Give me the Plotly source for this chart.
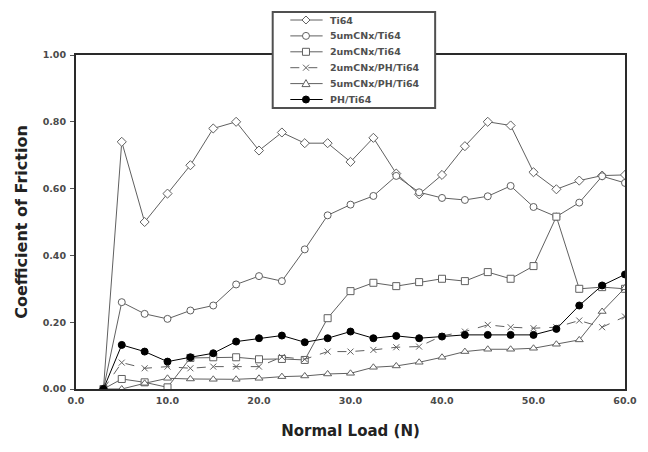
import plotly.graph_objects as go

loads = [3, 5, 7.5, 10, 12.5, 15, 17.5, 20, 22.5, 25, 27.5, 30, 32.5, 35, 37.5,
         40, 42.5, 45, 47.5, 50, 52.5, 55, 57.5, 60]

ti64 = [0.00, 0.74, 0.50, 0.585, 0.67, 0.78, 0.80, 0.714, 0.768, 0.736, 0.736, 0.68,
        0.752, 0.645, 0.583, 0.641, 0.727, 0.80, 0.789, 0.649, 0.598, 0.624, 0.639, 0.641]
c5_ti64 = [0.00, 0.26, 0.225, 0.21, 0.235, 0.25, 0.313, 0.338, 0.323, 0.418, 0.52, 0.552,
           0.578, 0.638, 0.589, 0.572, 0.566, 0.577, 0.608, 0.545, 0.516, 0.558, 0.637, 0.617]
c2_ti64 = [0.00, 0.03, 0.02, 0.005, 0.093, 0.095, 0.095, 0.089, 0.09, 0.087, 0.212, 0.293,
           0.318, 0.308, 0.32, 0.33, 0.323, 0.35, 0.33, 0.368, 0.516, 0.30, 0.305, 0.30]
c2_ph_ti64 = [0.00, 0.079, 0.062, 0.067, 0.062, 0.067, 0.067, 0.067, 0.096, 0.089, 0.112, 0.112,
              0.117, 0.125, 0.127, 0.159, 0.172, 0.192, 0.185, 0.182, 0.185, 0.205, 0.185, 0.217]
c5_ph_ti64 = [0.00, 0.00, 0.017, 0.032, 0.03, 0.029, 0.029, 0.032, 0.037, 0.039, 0.045, 0.047,
              0.065, 0.069, 0.08, 0.095, 0.112, 0.119, 0.119, 0.122, 0.134, 0.147, 0.232, 0.303]
ph_ti64 = [0.00, 0.132, 0.112, 0.082, 0.095, 0.107, 0.142, 0.152, 0.16, 0.14, 0.152, 0.172,
           0.152, 0.159, 0.152, 0.157, 0.162, 0.162, 0.162, 0.162, 0.18, 0.25, 0.31, 0.343]

names = ["Ti64", "5umCNx/Ti64", "2umCNx/Ti64", "2umCNx/PH/Ti64", "5umCNx/PH/Ti64", "PH/Ti64"]
series = [ti64, c5_ti64, c2_ti64, c2_ph_ti64, c5_ph_ti64, ph_ti64]
symbols = ["diamond", "circle", "square", "x-thin", "triangle-up", "circle"]
dashes = ["solid", "solid", "solid", "dash", "solid", "solid"]

GREY = "#606060"
DARK = "#2a2a2a"

W, H = 648, 452
ML, MR, MT, MB = 76, 11, 55, 63
PW, PH = W - ML - MR, H - MT - MB


def xp(px):
    return (px - ML) / PW


def yp(py):
    return (H - MB - py) / PH


def style(nm):
    filled = nm == "PH/Ti64"
    fill = "black" if filled else "white"
    edge = "black" if filled else GREY
    return fill, edge


fig = go.Figure()
for nm, ys, sym, ds in zip(names, series, symbols, dashes):
    fill, edge = style(nm)
    if sym == "x-thin":
        mk = dict(symbol=sym, size=6, color=GREY, line=dict(color=GREY, width=1))
    else:
        mk = dict(symbol=sym, size=7, color=fill, line=dict(color=edge, width=1))
    fig.add_trace(go.Scatter(
        x=loads, y=ys, name=nm, mode="lines+markers", showlegend=False,
        line=dict(color=edge if nm == "PH/Ti64" else GREY, width=1, dash=ds),
        marker=mk,
    ))

# ---- hand-built legend box (paper coordinates) ----
BOX_L, BOX_R, BOX_T, BOX_B = 277, 443, 12, 108
ROW0, ROW_STEP = 20, 15.9
LINE_X0, LINE_X1, MARK_X, TEXT_X = 295, 328, 311, 333

shapes = [dict(type="rect", xref="paper", yref="paper", layer="above",
               x0=xp(BOX_L), x1=xp(BOX_R), y0=yp(BOX_B), y1=yp(BOX_T),
               fillcolor="white", line=dict(color="#505050", width=2))]
annotations = []
marker_paths = {
    "diamond": "M -4 0 L 0 4 L 4 0 L 0 -4 Z",
    "triangle-up": "M -4 -3 L 4 -3 L 0 4 Z",
    "x-thin": "M -3 -3 L 3 3 M -3 3 L 3 -3",
}
for i, (nm, sym, ds) in enumerate(zip(names, symbols, dashes)):
    ry = yp(ROW0 + i * ROW_STEP)
    fill, edge = style(nm)
    shapes.append(dict(type="line", xref="paper", yref="paper", layer="above",
                       x0=xp(LINE_X0), x1=xp(LINE_X1), y0=ry, y1=ry,
                       line=dict(color=edge if nm == "PH/Ti64" else GREY, width=1, dash=ds)))
    common = dict(xref="paper", yref="paper", layer="above",
                  xsizemode="pixel", ysizemode="pixel", xanchor=xp(MARK_X), yanchor=ry)
    if sym in ("circle", "square"):
        shapes.append(dict(type="circle" if sym == "circle" else "rect",
                           x0=-3.5, x1=3.5, y0=-3.5, y1=3.5,
                           fillcolor=fill, line=dict(color=edge, width=1), **common))
    else:
        shapes.append(dict(type="path", path=marker_paths[sym],
                           fillcolor=None if sym == "x-thin" else fill,
                           line=dict(color=GREY, width=1), **common))
    annotations.append(dict(xref="paper", yref="paper", x=xp(TEXT_X), y=ry,
                            xanchor="left", yanchor="middle", showarrow=False, text=nm,
                            font=dict(family="DejaVu Sans", size=9.5, weight="bold", color="#505050")))

tick_font = dict(family="DejaVu Sans", size=9.5, weight="bold", color="#4a4a4a")
ytitle_font = dict(family="DejaVu Sans", size=16, weight="bold", color="#222222")
xtitle_font = dict(family="DejaVu Sans", size=15, weight="bold", color="#222222")

fig.update_layout(
    width=W, height=H,
    margin=dict(l=ML, r=MR, t=MT, b=MB),
    paper_bgcolor="white", plot_bgcolor="white",
    font=dict(family="DejaVu Sans", color="#333333"),
    shapes=shapes, annotations=annotations,
    xaxis=dict(
        range=[0, 60], tick0=0, dtick=10, tickformat=".1f",
        showgrid=False, zeroline=False,
        showline=True, linecolor=DARK, linewidth=2, mirror=True,
        ticks="", tickfont=tick_font, ticklabelstandoff=2,
        ticklabeloverflow="allow",
        title=dict(text="Normal Load (N)", font=xtitle_font, standoff=20),
    ),
    yaxis=dict(
        range=[0, 1], tick0=0, dtick=0.2, tickformat=".2f",
        showgrid=False, zeroline=False,
        showline=True, linecolor=DARK, linewidth=2, mirror=True,
        ticks="outside", ticklen=4, tickcolor="#555555", ticklabelstandoff=2,
        tickfont=tick_font,
        title=dict(text="Coefficient of Friction", font=ytitle_font, standoff=11),
    ),
)

fig.write_html("out.html", config={"displayModeBar": False},
               post_script="document.body.style.margin='0';document.body.style.overflow='hidden';")
